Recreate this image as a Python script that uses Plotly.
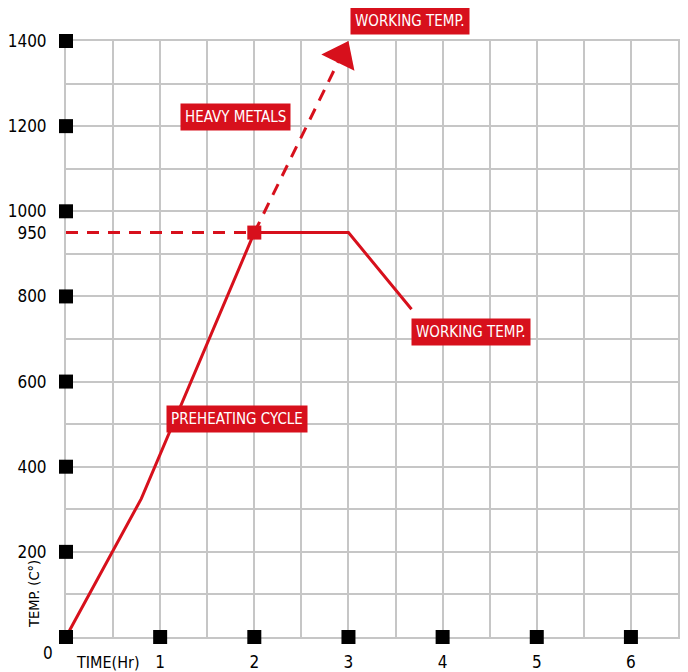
import plotly.graph_objects as go
import math

# ---- data ----
preheat_x = [0, 0.8, 2, 3, 3.67]
preheat_y = [0, 325, 950, 950, 770]
ref_x = [0, 2]
ref_y = [950, 950]
heavy_x = [2, 3.0]
heavy_y = [950, 1400]
y_ticks = [200, 400, 600, 800, 950, 1000, 1200, 1400]
y_tick_text = ["200", "400", "600", "800", "950", "1000", "1200", "1400"]
y_markers = [0, 200, 400, 600, 800, 1000, 1200, 1400]
x_ticks = [1, 2, 3, 4, 5, 6]
x_tick_text = ["1", "2", "3", "4", "5", "6"]
labels = ["WORKING TEMP.", "HEAVY METALS", "WORKING TEMP.", "PREHEATING CYCLE"]
label_x = [3.65, 1.80, 4.30, 1.82]
label_y = [1447, 1222, 716, 512]

RED = "#d7101c"
GRID = "#c6c6c6"
FONT = "DejaVu Sans Condensed"

# page has an 8px body margin: the figure starts at (8, 8)
OFF = 8
W, H = 688 - OFF, 672 - OFF
L, R, T, B = 66 - OFF, 10, 41 - OFF, 35
XR = [0, 6.5]
YR = [0, 1400]
pw, ph = W - L - R, H - T - B
sx = pw / (XR[1] - XR[0])
sy = ph / (YR[1] - YR[0])


def px(x):
    return (x - 66) / pw


def py(y):
    return (672 - 35 - y) / ph


fig = go.Figure()

fig.add_trace(go.Scatter(x=ref_x, y=ref_y, mode="lines",
                         line=dict(color=RED, width=3, dash="12px,9px"),
                         hoverinfo="skip", cliponaxis=False))

dxp = (heavy_x[1] - heavy_x[0]) * sx
dyp = (heavy_y[1] - heavy_y[0]) * sy
Lp = math.hypot(dxp, dyp)
ux, uy = dxp / Lp, dyp / Lp
head = 32
cut = 22
line_end_x = heavy_x[1] - ux * cut / sx
line_end_y = heavy_y[1] - uy * cut / sy
fig.add_trace(go.Scatter(x=[heavy_x[0], line_end_x], y=[heavy_y[0], line_end_y], mode="lines",
                         line=dict(color=RED, width=3, dash="12px,9px"),
                         hoverinfo="skip", cliponaxis=False))
cx = heavy_x[1] - ux * (head / 2) / sx
cy = heavy_y[1] - uy * (head / 2) / sy
angle = math.degrees(math.atan2(ux, uy))
fig.add_trace(go.Scatter(x=[cx], y=[cy], mode="markers",
                         marker=dict(symbol="triangle-up", size=head, color=RED, angle=angle,
                                     line=dict(width=0)),
                         hoverinfo="skip", cliponaxis=False))

fig.add_trace(go.Scatter(x=preheat_x, y=preheat_y, mode="lines",
                         line=dict(color=RED, width=3),
                         hoverinfo="skip", cliponaxis=False))

fig.add_trace(go.Scatter(x=[preheat_x[2]], y=[preheat_y[2]], mode="markers",
                         marker=dict(symbol="square", size=14, color=RED, line=dict(width=0)),
                         hoverinfo="skip", cliponaxis=False))

fig.add_trace(go.Scatter(x=[0] * len(y_markers), y=y_markers, mode="markers",
                         marker=dict(symbol="square", size=14, color="black", line=dict(width=0)),
                         hoverinfo="skip", cliponaxis=False))
fig.add_trace(go.Scatter(x=x_ticks, y=[0] * len(x_ticks), mode="markers",
                         marker=dict(symbol="square", size=14, color="black", line=dict(width=0)),
                         hoverinfo="skip", cliponaxis=False))

for t, x, y in zip(labels, label_x, label_y):
    fig.add_annotation(x=x, y=(y - YR[0]) / (YR[1] - YR[0]), xref="x", yref="paper",
                       text=t, showarrow=False,
                       xanchor="center", yanchor="middle",
                       font=dict(family=FONT, size=15, color="white"),
                       bgcolor=RED, borderpad=4)

fig.add_annotation(xref="paper", yref="paper", x=px(34), y=py(594),
                   xanchor="center", yanchor="middle",
                   text="TEMP. (C°)", textangle=-90, showarrow=False,
                   font=dict(family=FONT, size=14.5, color="black"))
fig.add_annotation(xref="paper", yref="paper", x=px(108), y=py(662),
                   xanchor="center", yanchor="middle",
                   text="TIME(Hr)", showarrow=False,
                   font=dict(family=FONT, size=16, color="black"))
fig.add_annotation(xref="paper", yref="paper", x=px(48), y=py(653),
                   xanchor="center", yanchor="middle",
                   text="0", showarrow=False,
                   font=dict(family=FONT, size=17, color="black"))

axis_common = dict(showgrid=False, zeroline=False, ticks="", automargin=False,
                   showline=True, linecolor=GRID, linewidth=2, mirror=True,
                   layer="below traces",
                   tickfont=dict(family=FONT, size=17, color="black"))

fig.update_layout(
    width=W, height=H,
    margin=dict(l=L, r=R, t=T, b=B, autoexpand=False),
    paper_bgcolor="white", plot_bgcolor="white",
    showlegend=False,
    font=dict(family=FONT, size=17, color="black"),
    xaxis=dict(range=XR, tickvals=x_ticks, ticktext=x_tick_text, ticklabelstandoff=9,
               minor=dict(dtick=0.5, tick0=0, showgrid=True, gridcolor=GRID, gridwidth=2),
               **axis_common),
    yaxis=dict(range=YR, tickvals=y_ticks, ticktext=y_tick_text, ticklabelstandoff=14,
               minor=dict(dtick=100, tick0=0, showgrid=True, gridcolor=GRID, gridwidth=2),
               **axis_common),
)

fig.write_html("out.html")
